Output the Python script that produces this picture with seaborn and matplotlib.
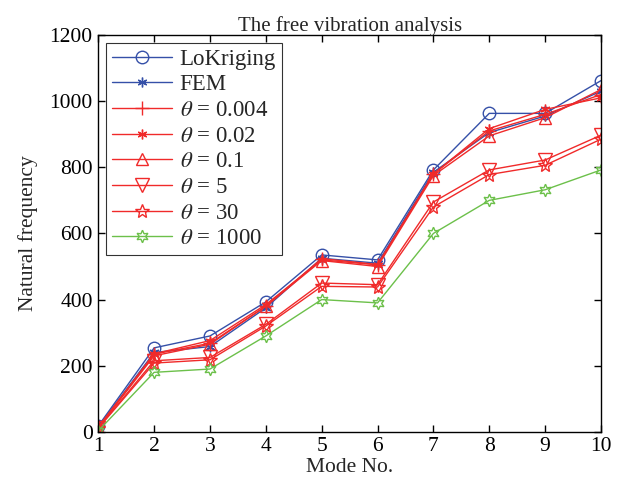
import matplotlib
matplotlib.use("Agg")
import matplotlib.pyplot as plt
import seaborn as sns
import numpy as np

modes = [1, 2, 3, 4, 5, 6, 7, 8, 9, 10]
lokriging = [18, 254, 290, 393, 535, 520, 792, 963, 963, 1062]
fem = [15, 240, 258, 375, 525, 510, 785, 905, 955, 1030]
theta_0004 = [14, 235, 268, 380, 524, 506, 780, 910, 960, 1020]
theta_002 = [14, 236, 276, 385, 520, 505, 780, 917, 975, 1010]
theta_01 = [13, 230, 265, 380, 518, 500, 775, 895, 950, 1035]
theta_5 = [12, 215, 225, 325, 450, 445, 695, 792, 822, 897]
theta_30 = [11, 208, 218, 320, 440, 438, 680, 778, 806, 885]
theta_1000 = [3, 180, 190, 290, 400, 390, 600, 700, 732, 792]

labels = ["LoKriging", "FEM", r"$\theta$ = 0.004", r"$\theta$ = 0.02",
          r"$\theta$ = 0.1", r"$\theta$ = 5", r"$\theta$ = 30", r"$\theta$ = 1000"]

sns.set_style("ticks")
plt.rcParams['font.family'] = ['Liberation Serif', 'DejaVu Serif']
plt.rcParams['mathtext.fontset'] = 'stix'

blue = '#3550A8'
red = '#F02A2A'
green = '#6CC04A'

series = [
    (lokriging, blue, 'o', 9),
    (fem, blue, (6, 2, 0), 7),
    (theta_0004, red, '+', 10),
    (theta_002, red, (6, 2, 0), 7),
    (theta_01, red, '^', 9),
    (theta_5, red, 'v', 10),
    (theta_30, red, '*', 10),
    (theta_1000, green, (6, 1, 0), 9),
]

fig = plt.figure(figsize=(6.26, 4.93), dpi=100)
ax = fig.add_axes([0.157, 0.124, 0.803, 0.805])

for (vals, col, mk, ms), lab in zip(series, labels):
    sns.lineplot(x=modes, y=vals, ax=ax, color=col, marker=mk, markersize=ms,
                 markerfacecolor='none', markeredgecolor=col, markeredgewidth=1.0,
                 linewidth=1.0, label=lab)

ax.set_xlim(1, 10)
ax.set_ylim(0, 1200)
ax.set_xticks(modes)
ax.set_yticks([0, 200, 400, 600, 800, 1000, 1200])
ax.tick_params(direction='in', top=True, right=True, labelsize=15.5, length=5, width=1,
               colors='black', pad=4)
for s in ax.spines.values():
    s.set_visible(True)
    s.set_color('black')
    s.set_linewidth(1.0)

ax.set_xlabel("Mode No.", fontsize=15.5, labelpad=1)
ax.set_ylabel("Natural frequency", fontsize=15.5, labelpad=8)
ax.set_title("The free vibration analysis", fontsize=15, pad=3)

leg = ax.legend(loc='upper left', fontsize=16.5, frameon=True, fancybox=False,
                edgecolor='black', borderaxespad=0.35, handlelength=2.6,
                labelspacing=0.2, borderpad=0.25, handletextpad=0.35)
leg.get_frame().set_linewidth(0.8)

fig.savefig("out.png", dpi=100)
